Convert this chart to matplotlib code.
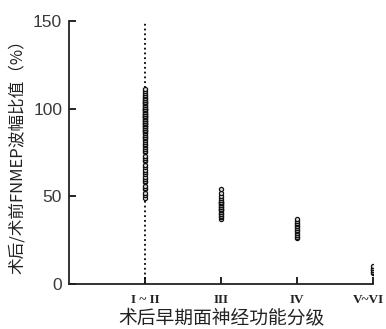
import matplotlib
matplotlib.use("Agg")
import matplotlib.pyplot as plt
import matplotlib.transforms as mtransforms

# grade categories and per-grade amplitude ratios (%)
grades = ["I ~ II", "III", "IV", "V~VI"]
grade_pos = [1, 2, 3, 4]

ratio_g12 = [49, 51, 52, 54, 55, 56, 58, 59, 60, 61, 63, 64, 65, 67, 68, 70, 71,
             72, 73, 75, 76, 77, 78, 79, 80, 81, 82, 83, 84, 84, 85, 86, 86, 87,
             87, 88, 88, 89, 89, 90, 90, 90, 91, 91, 92, 92, 93, 93, 93, 94, 94,
             95, 95, 95, 96, 96, 97, 97, 97, 98, 98, 99, 99, 100, 100, 100, 101,
             101, 102, 102, 103, 103, 104, 104, 105, 105, 106, 106, 107, 108,
             109, 110, 111]
ratio_g3 = [37, 38, 39, 40, 40, 41, 42, 42, 43, 43, 44, 44, 45, 45, 46, 46, 47,
            47, 48, 49, 50, 52, 54]
ratio_g4 = [26, 27, 28, 29, 30, 31, 32, 33, 33, 34, 35, 36, 37]
ratio_g56 = [6, 7, 8, 8, 9, 10]

groups = [ratio_g12, ratio_g3, ratio_g4, ratio_g56]

plt.rcParams["font.family"] = ["Liberation Sans", "Noto Sans CJK SC", "DejaVu Sans"]

fig = plt.figure(figsize=(3.86, 3.29), dpi=100)
ax = fig.add_axes([0.179, 0.137, 0.787, 0.799])

ax.plot([1, 1], [0, 150], linestyle=":", color="black", linewidth=1.3, zorder=1)

for pos, vals in zip(grade_pos, groups):
    ax.plot([pos] * len(vals), vals, linestyle="none", marker="o",
            markersize=3.0, markerfacecolor="#dddddd", markeredgecolor="#111111",
            markeredgewidth=0.9, zorder=2)

ax.set_xlim(0, 4)
ax.set_ylim(0, 150)
ax.set_yticks([0, 50, 100, 150])
ax.set_xticks(grade_pos)
ax.set_xticklabels(grades, family=["Liberation Serif", "DejaVu Serif"],
                   fontweight="bold", fontsize=9.5, color="#222222")
ax.tick_params(axis="y", direction="in", length=5, width=1.2,
               labelsize=12.5, labelcolor="#3a3a3a", pad=5)
ax.tick_params(axis="x", direction="in", length=5, width=1.2, pad=7)

# nudge the last tick label so it stays inside the figure
last = ax.get_xticklabels()[-1]
last.set_transform(last.get_transform() +
                   mtransforms.ScaledTranslation(-4 / 100, 0, fig.dpi_scale_trans))

for side in ["top", "right"]:
    ax.spines[side].set_visible(False)
for side in ["left", "bottom"]:
    ax.spines[side].set_linewidth(1.3)
    ax.spines[side].set_color("#222222")

ax.set_ylabel("术后/术前FNMEP波幅比值（%）",
              family=["Noto Sans CJK SC", "DejaVu Sans"], fontweight="medium",
              fontsize=12, color="#222222", labelpad=5)
ax.set_xlabel("术后早期面神经功能分级",
              family=["Noto Sans CJK SC", "DejaVu Sans"], fontweight="medium",
              fontsize=13.5, color="#222222", labelpad=1)

fig.savefig("out.png", dpi=100)
